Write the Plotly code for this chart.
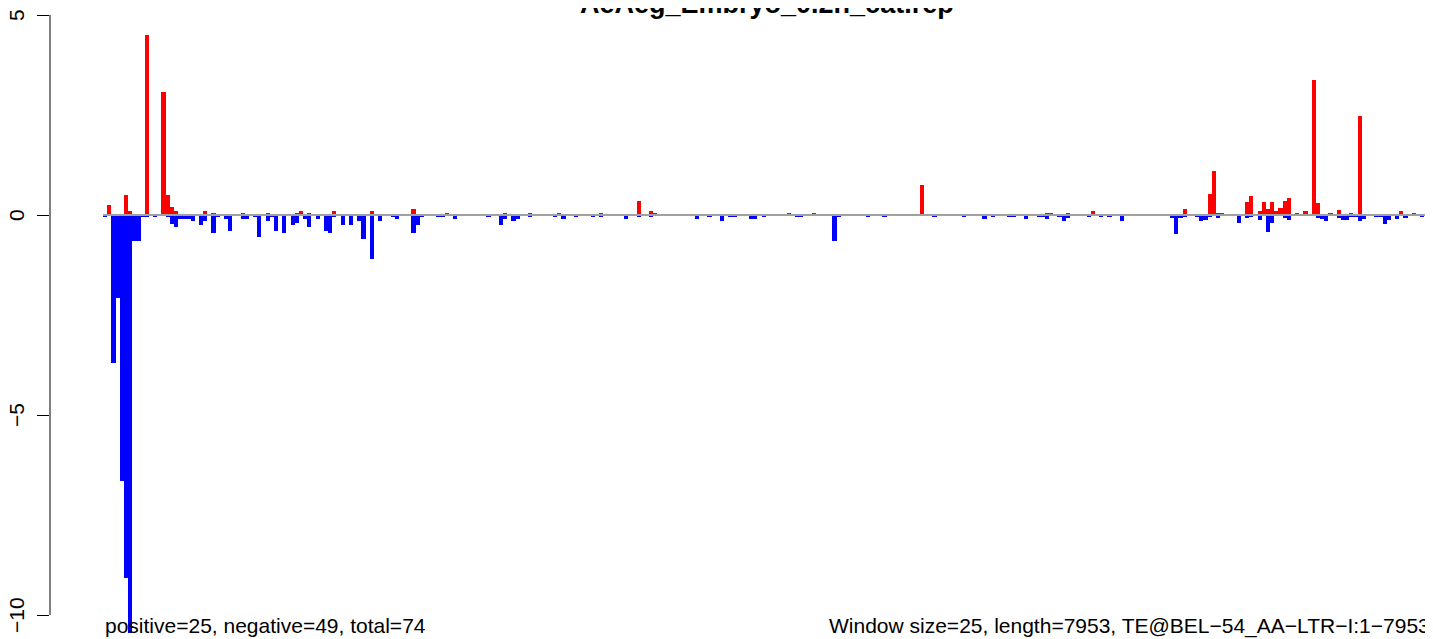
import plotly.graph_objects as go

title_text = "AeAeg_Embryo_0.2h_cat.rep"
left_note = "positive=25, negative=49, total=74"
right_note = "Window size=25, length=7953, TE@BEL\u221254_AA\u2212LTR\u2212I:1\u22127953"
y_ticks = [-10, -5, 0, 5]
y_tick_labels = ["\u221210", "\u22125", "0", "5"]

# window-wise positive (red) and negative (blue) values, 319 windows
positive = [
    0, 0.26, 0, 0, 0, 0.49, 0.11, 0.02, 0, 0,
    4.50, 0.02, 0.02, 0, 3.08, 0.49, 0.19, 0.09, 0.02, 0,
    0, 0, 0, 0, 0.09, 0, 0.04, 0, 0, 0,
    0, 0, 0, 0.04, 0.02, 0.02, 0, 0.02, 0, 0.04,
    0.02, 0, 0, 0, 0, 0, 0.04, 0.09, 0, 0.04,
    0.02, 0.02, 0.02, 0, 0, 0.09, 0, 0, 0, 0,
    0.02, 0, 0, 0, 0.09, 0, 0.02, 0, 0, 0,
    0, 0, 0, 0.02, 0.14, 0.02, 0, 0, 0.02, 0,
    0, 0, 0.04, 0, 0, 0, 0, 0, 0, 0.02,
    0, 0, 0, 0, 0, 0, 0.04, 0, 0, 0,
    0, 0, 0.04, 0, 0, 0.02, 0, 0, 0, 0.04,
    0, 0, 0, 0, 0, 0, 0, 0, 0, 0.04,
    0, 0, 0, 0.02, 0, 0, 0.02, 0.02, 0.34, 0,
    0, 0.09, 0.04, 0, 0, 0, 0, 0, 0, 0,
    0, 0, 0, 0, 0, 0, 0, 0, 0, 0,
    0, 0, 0, 0, 0, 0, 0, 0, 0, 0,
    0, 0, 0, 0, 0.04, 0, 0, 0, 0, 0,
    0.04, 0, 0, 0.02, 0, 0, 0, 0, 0, 0,
    0, 0, 0, 0, 0, 0.02, 0, 0, 0.02, 0,
    0, 0, 0.02, 0, 0, 0, 0.74, 0, 0, 0,
    0, 0, 0, 0, 0, 0, 0, 0, 0, 0,
    0.02, 0, 0, 0, 0, 0, 0, 0, 0, 0,
    0, 0, 0, 0.02, 0, 0, 0.05, 0.05, 0, 0,
    0, 0.05, 0, 0, 0, 0.02, 0, 0.10, 0, 0,
    0, 0, 0, 0.02, 0, 0, 0, 0, 0, 0,
    0.02, 0, 0, 0, 0, 0, 0, 0.02, 0.02, 0.14,
    0, 0, 0, 0, 0.02, 0.52, 1.09, 0.04, 0.04, 0,
    0, 0, 0, 0, 0.32, 0.47, 0, 0.09, 0.32, 0.14,
    0.32, 0.09, 0.17, 0.34, 0.42, 0, 0.04, 0, 0.09, 0,
    3.37, 0.29, 0, 0, 0.04, 0.02, 0.12, 0.02, 0, 0.04,
    0.02, 2.47, 0.02, 0, 0, 0, 0, 0, 0, 0,
    0, 0.09, 0, 0, 0.04, 0, 0, 0, 0,
]

negative = [
    -0.06, 0, -3.69, -2.07, -6.64, -9.07, -10.44, -0.64, -0.64, -0.06,
    -0.06, 0, -0.06, 0, 0, -0.06, -0.22, -0.29, -0.09, -0.11,
    -0.09, -0.14, 0, -0.26, -0.14, 0, -0.46, -0.06, 0, -0.09,
    -0.39, 0, 0, -0.09, -0.09, 0, -0.06, -0.56, 0, -0.14,
    -0.06, -0.41, 0, -0.46, 0, -0.26, -0.21, 0, -0.11, -0.31,
    0, -0.09, 0, -0.41, -0.44, -0.06, 0, -0.26, 0, -0.24,
    0, -0.14, -0.59, 0, -1.11, 0, -0.14, 0, 0, -0.06,
    -0.09, 0, 0, 0, -0.44, -0.26, -0.06, 0, 0, 0,
    -0.06, -0.06, 0, 0, -0.09, 0, 0, 0, 0, 0,
    0, 0, -0.06, 0, 0, -0.24, -0.09, 0, -0.16, -0.09,
    0, 0, -0.06, 0, 0, 0, 0, 0, -0.06, 0,
    -0.09, 0, 0, -0.06, 0, 0, 0, -0.06, 0, -0.06,
    0, 0, 0, 0, 0, -0.09, 0, 0, -0.06, 0,
    0, -0.06, 0, 0, 0, 0, 0, 0, 0, 0,
    0, 0, -0.11, 0, 0, -0.06, 0, 0, -0.16, 0,
    -0.06, -0.06, 0, 0, 0, -0.11, -0.11, 0, -0.06, 0,
    0, 0, 0, 0, 0, 0, -0.06, -0.06, 0, 0,
    0, 0, 0, 0, 0, -0.66, -0.06, 0, 0, 0,
    0, 0, 0, -0.06, 0, 0, 0, -0.06, 0, 0,
    0, 0, 0, 0, 0, 0, 0, 0, 0, -0.06,
    0, 0, 0, 0, 0, 0, -0.06, 0, 0, 0,
    0, -0.09, 0, -0.06, 0, 0, 0, -0.06, -0.06, 0,
    0, -0.09, 0, 0, -0.06, -0.06, -0.09, 0, 0, -0.06,
    -0.14, -0.08, 0, 0, 0, 0, -0.06, 0, 0, -0.06,
    0, -0.06, 0, 0, -0.16, 0, 0, 0, 0, 0,
    0, 0, 0, 0, 0, 0, -0.08, -0.48, -0.08, -0.05,
    0, 0, -0.05, -0.16, -0.12, -0.05, 0, -0.08, 0, 0,
    0, 0, -0.21, 0, -0.08, -0.05, 0, -0.13, 0, -0.43,
    -0.21, 0, 0, -0.08, -0.13, 0, 0, 0, 0, 0,
    0, -0.08, -0.10, -0.16, 0, 0, -0.08, -0.13, -0.13, -0.05,
    -0.05, -0.16, -0.10, 0, 0, -0.05, -0.05, -0.22, -0.13, 0,
    -0.11, 0, -0.08, 0, 0, 0, -0.05, 0, 0,
]

windows = list(range(len(positive)))
n = len(windows)

FONT = "Liberation Sans, Arial, Helvetica, sans-serif"

fig = go.Figure()
fig.add_trace(go.Bar(x=windows, y=positive, width=1, marker=dict(color="#FF0000", line=dict(width=0)),
                     showlegend=False, hoverinfo="x+y"))
fig.add_trace(go.Bar(x=windows, y=negative, width=1, marker=dict(color="#0000FF", line=dict(width=0)),
                     showlegend=False, hoverinfo="x+y"))

# the page body adds an 8px offset; figure is sized so it fills the window exactly
OFF = 8
W, H = 1433 - OFF, 639 - OFF
ML = 50 - OFF
PW = W - ML
px_per_bar = 4.168
first_left_px = 103 - OFF
xmin = -0.5 - (first_left_px - ML) / px_per_bar
xmax = xmin + PW / px_per_bar
zero_px = 215 - OFF
px_per_unit = 40
ytop = zero_px / px_per_unit
ybot = -(H - zero_px) / px_per_unit

label_center_px = 16 - OFF  # horizontal centre of the rotated y tick labels

annotations = [
    dict(text="<b>" + title_text + "</b>", xref="paper", yref="paper",
         x=(767 - OFF - ML) / PW, y=1,
         xanchor="center", yanchor="middle", yshift=4, showarrow=False,
         font=dict(family=FONT, size=27, color="black")),
    dict(text=left_note, xref="x", yref="y", x=-0.5, y=-10.27, xanchor="left", yanchor="middle",
         showarrow=False, font=dict(family=FONT, size=21, color="black")),
    dict(text=right_note, xref="x", yref="y", x=n - 0.5, y=-10.27, xanchor="right", yanchor="middle",
         xshift=-1, showarrow=False, font=dict(family=FONT, size=21, color="black")),
]
for v, t in zip(y_ticks, y_tick_labels):
    annotations.append(dict(text=t, xref="paper", yref="y", x=(label_center_px - ML) / PW, y=v,
                            xanchor="center", yanchor="middle", textangle=-90, showarrow=False,
                            font=dict(family=FONT, size=21, color="black")))

fig.update_layout(
    width=W, height=H,
    margin=dict(l=ML, r=0, t=0, b=0, autoexpand=False),
    paper_bgcolor="white", plot_bgcolor="white",
    barmode="overlay", bargap=0,
    font=dict(family=FONT, size=21, color="black"),
    xaxis=dict(range=[xmin, xmax], visible=False, showgrid=False, zeroline=False),
    yaxis=dict(range=[ybot, ytop], tickvals=y_ticks, ticks="outside", ticklen=12,
               tickwidth=1, tickcolor="black", showgrid=False, zeroline=False, showline=False,
               showticklabels=False),
    shapes=[
        dict(type="line", xref="paper", yref="y", x0=0, x1=0, y0=y_ticks[0], y1=y_ticks[-1],
             line=dict(color="black", width=1)),
        dict(type="line", xref="x", yref="y", x0=-0.5, x1=n - 0.5, y0=0, y1=0,
             line=dict(color="#A0A0A0", width=2), layer="above"),
    ],
    annotations=annotations,
)

fig.write_html("out.html")
